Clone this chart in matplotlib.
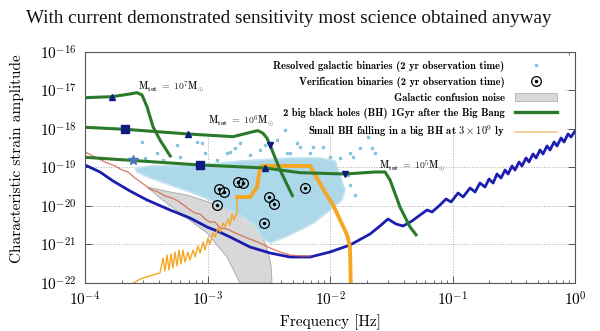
import numpy as np
import matplotlib
matplotlib.use("Agg")
import matplotlib.pyplot as plt
from matplotlib.lines import Line2D
from matplotlib.patches import Patch, Rectangle
from matplotlib.ticker import LogLocator, NullLocator

plt.rcParams['font.family'] = 'serif'
plt.rcParams['font.serif'] = ['cmr10']
plt.rcParams['mathtext.fontset'] = 'cm'
plt.rcParams['axes.formatter.use_mathtext'] = True

# all curves are stored as log10(frequency [Hz]) and log10(strain)

# LISA sensitivity curve
lisa_logf = [-4.000, -3.878, -3.771, -3.633, -3.494, -3.306, -3.143, -3.004, -2.922, -2.816,
             -2.653, -2.490, -2.327, -2.163, -2.000, -1.837, -1.673, -1.592, -1.527, -1.461,
             -1.404, -1.331, -1.265, -1.208, -1.167, -1.102, -1.053, -1.012, -0.955, -0.914,
             -0.857, -0.816, -0.776, -0.735, -0.702, -0.669, -0.637, -0.604, -0.571, -0.547,
             -0.514, -0.490, -0.457, -0.433, -0.400, -0.376, -0.343, -0.318, -0.286, -0.261,
             -0.229, -0.204, -0.171, -0.147, -0.114, -0.090, -0.057, -0.033, 0.000]
lisa_logh = [-18.935, -19.117, -19.351, -19.610, -19.844, -20.104, -20.312, -20.545, -20.649, -20.805,
             -21.065, -21.221, -21.325, -21.325, -21.195, -21.013, -20.727, -20.519, -20.338, -20.468,
             -20.519, -20.390, -20.234, -20.104, -20.156, -19.974, -19.818, -19.896, -19.662, -19.766,
             -19.532, -19.636, -19.403, -19.506, -19.299, -19.403, -19.169, -19.273, -19.065, -19.169,
             -18.961, -19.065, -18.857, -18.961, -18.753, -18.857, -18.649, -18.753, -18.545, -18.649,
             -18.442, -18.545, -18.338, -18.442, -18.234, -18.338, -18.130, -18.208, -18.052]

# older (red) sensitivity estimate
red_logf = [-4.000, -3.918, -3.837, -3.755, -3.698, -3.649, -3.592, -3.535, -3.469, -3.404,
            -3.347, -3.290, -3.241, -3.184, -3.143, -3.102, -3.061, -3.020, -2.980, -2.939,
            -2.898, -2.841, -2.792, -2.735, -2.678, -2.612, -2.555, -2.490, -2.408, -2.327,
            -2.245, -2.163]
red_logh = [-18.597, -18.727, -18.857, -18.961, -19.065, -19.117, -19.273, -19.403, -19.558, -19.636,
            -19.740, -19.792, -19.870, -20.000, -20.104, -20.182, -20.208, -20.338, -20.416, -20.416,
            -20.571, -20.597, -20.675, -20.753, -20.831, -20.909, -20.987, -21.091, -21.195, -21.273,
            -21.299, -21.299]

# galactic confusion noise (outline of the shaded region)
conf_logf = [-3.494, -3.306, -3.167, -2.922, -2.792, -2.629, -2.547, -2.506, -2.482, -2.473,
             -2.735, -2.841, -3.004, -3.224, -3.388]
conf_logh = [-19.506, -19.636, -19.714, -19.974, -20.156, -20.442, -20.831, -21.195, -21.532, -22.0,
             -22.0, -21.325, -20.701, -20.182, -19.792]

# resolved galactic binaries: dense core outline and isolated sources
gb_core_logf = [-3.592, -3.469, -3.061, -2.735, -2.327, -2.082, -1.959, -1.918, -1.878, -1.902,
                -2.000, -2.122, -2.245, -2.367, -2.490, -2.555, -2.612, -2.735, -2.857, -2.980,
                -3.143, -3.306, -3.469, -3.575]
gb_core_logh = [-19.013, -18.961, -18.935, -18.831, -18.753, -18.753, -18.831, -19.195, -19.584, -19.844,
                -20.104, -20.416, -20.623, -20.805, -20.961, -20.831, -20.519, -20.234, -20.052, -19.844,
                -19.636, -19.455, -19.273, -19.117]
gb_logf = [-3.535, -3.412, -3.249, -3.224, -3.086, -3.045, -3.020, -2.922, -2.841, -2.816,
           -2.776, -2.735, -2.433, -2.367, -2.351, -2.327, -2.269, -2.245, -2.163, -2.139,
           -2.057, -2.000, -1.918, -1.837, -1.812, -1.755, -1.690, -1.657, -1.633, -1.853,
           -1.837, -1.796, -2.571, -2.531, -2.653, -3.363, -3.510]
gb_logh = [-18.338, -18.623, -18.416, -18.727, -18.338, -18.364, -18.623, -18.805, -18.623, -18.597,
           -18.494, -18.364, -18.286, -18.026, -18.623, -18.623, -18.364, -18.468, -18.623, -18.468,
           -18.468, -18.727, -18.753, -18.623, -18.727, -18.494, -18.208, -18.494, -18.623, -19.195,
           -19.455, -19.714, -18.545, -18.416, -18.675, -18.805, -18.753]

# verification binaries
vb_logf = [-2.906, -2.865, -2.751, -2.710, -2.922, -2.498, -2.457, -2.539, -2.204]
vb_logh = [-19.558, -19.636, -19.377, -19.403, -19.974, -19.766, -19.948, -20.442, -19.532]

# massive black hole binaries, M_tot = 1e7, 1e6, 1e5 solar masses
mbh7_logf = [-4.000, -3.780, -3.633, -3.576, -3.535, -3.494, -3.445, -3.388, -3.298]
mbh7_logh = [-17.187, -17.161, -17.091, -17.057, -17.117, -17.421, -17.940, -18.286, -18.735]
mbh6_logf = [-4.000, -3.673, -3.159, -2.792, -2.629, -2.588, -2.547, -2.514, -2.490, -2.408, -2.302]
mbh6_logh = [-17.956, -18.008, -18.130, -18.200, -18.070, -18.044, -18.112, -18.242, -18.416, -19.065, -19.766]
mbh5_logf = [-4.000, -3.608, -3.061, -2.531, -2.245, -1.878, -1.633, -1.551, -1.510, -1.429, -1.347, -1.290]
mbh5_logh = [-18.735, -18.818, -18.935, -19.013, -19.135, -19.169, -19.117, -19.117, -19.325, -20.026, -20.545, -20.779]

# extreme mass ratio inspiral: early chirp with spikes, then late high-amplitude part
emri_lo_logf = [-3.698, -3.551, -3.445, -3.388, -3.363, -3.347, -3.331, -3.314, -3.298, -3.282,
                -3.265, -3.249, -3.233, -3.216, -3.200, -3.184, -3.159, -3.143, -3.118, -3.102,
                -3.078, -3.061, -3.037, -3.020, -2.996, -2.980, -2.955, -2.939, -2.914, -2.898,
                -2.873, -2.857, -2.833, -2.816, -2.800, -2.784, -2.759, -2.759]
emri_lo_logh = [-22.182, -21.896, -21.792, -21.740, -21.351, -21.688, -21.273, -21.662, -21.247, -21.610,
                -21.195, -21.558, -21.143, -21.506, -21.143, -21.455, -21.195, -21.403, -21.143, -21.325,
                -21.039, -21.221, -20.935, -21.143, -20.831, -20.987, -20.701, -20.805, -20.571, -20.675,
                -20.442, -20.545, -20.338, -20.494, -20.208, -20.364, -20.156, -19.766]
emri_hi_logf = [-2.759, -2.653, -2.596, -2.571, -2.555, -2.163, -2.122, -2.041, -1.976, -1.918,
                -1.861, -1.837, -1.829]
emri_hi_logh = [-19.766, -19.766, -19.510, -19.010, -18.960, -18.960, -19.190, -19.640, -19.970, -20.360,
                -20.750, -21.060, -22.300]

legend_labels = [
    'Resolved galactic binaries (2 yr observation time)',
    'Verification binaries (2 yr observation time)',
    'Galactic confusion noise',
    '2 big black holes (BH) 1Gyr after the Big Bang',
    r'Small BH falling in a big BH at $3\times10^{9}$ ly',
]

green = '#2b7a2b'
navy = '#101c82'
orange = '#f5a623'


def p10(v):
    return np.power(10.0, np.asarray(v))


fig = plt.figure(figsize=(6.0, 3.31), dpi=100)
ax = fig.add_axes([0.1417, 0.145, 0.8167, 0.698])
ax.set_xscale('log')
ax.set_yscale('log')
ax.set_xlim(1e-4, 1)
ax.set_ylim(1e-22, 1e-16)

ax.set_axisbelow(True)
ax.grid(True, which='major', linestyle=':', color='#a8a8a8', linewidth=0.7)
# white panel behind the legend hides the grid in the upper part
ax.add_patch(Rectangle((0, 0.645), 0.98, 0.355, transform=ax.transAxes,
                       facecolor='white', edgecolor='none', zorder=1))

# confusion noise and resolved binaries
ax.fill(p10(conf_logf), p10(conf_logh), facecolor='#d8d8d8', edgecolor='#a5a5a5',
        linewidth=0.6, zorder=1.5)
ax.fill(p10(gb_core_logf), p10(gb_core_logh), facecolor='#add8ea', edgecolor='#c6e4f0',
        linewidth=1.2, zorder=1.6)
ax.plot(p10(gb_logf), p10(gb_logh), linestyle='none', marker='o', markersize=1.6,
        color='#86c3df', zorder=1.7)

# sensitivity curves
ax.plot(p10(lisa_logf), p10(lisa_logh), color='#1c1cb0', linewidth=2.0, zorder=2)
ax.plot(p10(red_logf), p10(red_logh), color='#d0604a', linewidth=0.9, alpha=0.85, zorder=2.1)

# EMRI track
ax.plot(p10(emri_lo_logf), p10(emri_lo_logh), color=orange, linewidth=1.0, zorder=2.2)
ax.plot(p10(emri_hi_logf), p10(emri_hi_logh), color=orange, linewidth=2.8, zorder=2.2,
        solid_joinstyle='miter')

# MBH binaries
for lf, lh in [(mbh7_logf, mbh7_logh), (mbh6_logf, mbh6_logh), (mbh5_logf, mbh5_logh)]:
    ax.plot(p10(lf), p10(lh), color=green, linewidth=2.2, zorder=2.5, solid_capstyle='butt')

ax.plot(p10([mbh7_logf[1], mbh6_logf[2], mbh5_logf[3]]), p10([mbh7_logh[1], mbh6_logh[2], mbh5_logh[3]]),
        linestyle='none', marker='^', markersize=4.5, color=navy, zorder=3)
ax.plot(p10([mbh6_logf[1], mbh5_logf[2]]), p10([mbh6_logh[1], mbh5_logh[2]]),
        linestyle='none', marker='s', markersize=5.5, color=navy, zorder=3)
ax.plot(p10([mbh6_logf[8], mbh5_logf[5]]), p10([mbh6_logh[8], mbh5_logh[5]]),
        linestyle='none', marker='v', markersize=4.5, color=navy, zorder=3)
ax.plot(p10([mbh5_logf[1]]), p10([mbh5_logh[1]]), linestyle='none', marker='*',
        markersize=7, color='#4c78b0', zorder=3)

# verification binaries
ax.plot(p10(vb_logf), p10(vb_logh), linestyle='none', marker='o', markersize=7,
        markerfacecolor='none', markeredgecolor='black', markeredgewidth=0.9, zorder=3.5)
ax.plot(p10(vb_logf), p10(vb_logh), linestyle='none', marker='o', markersize=1.5,
        color='black', zorder=3.5)

# mass labels
lab_kw = dict(fontsize=7, ha='left', va='center', zorder=4, color='#222222')
ax.text(10 ** -3.567, 10 ** -16.909, r'$\mathbf{M_{tot}}\ =\ 10^{7}\mathbf{M}_{\odot}$', **lab_kw)
ax.text(10 ** -2.996, 10 ** -17.792, r'$\mathbf{M_{tot}}\ =\ 10^{6}\mathbf{M}_{\odot}$', **lab_kw)
ax.text(10 ** -1.600, 10 ** -18.960, r'$\mathbf{M_{tot}}\ =\ 10^{5}\mathbf{M}_{\odot}$', **lab_kw)

# axes styling
ax.xaxis.set_major_locator(LogLocator(base=10, numticks=10))
ax.xaxis.set_minor_locator(LogLocator(base=10, subs=np.arange(2, 10), numticks=10))
ax.yaxis.set_major_locator(LogLocator(base=10, numticks=10))
ax.yaxis.set_minor_locator(NullLocator())
ax.tick_params(which='both', direction='in', top=True, right=True, color='#555555')
ax.tick_params(which='major', length=5, width=0.7, labelsize=11)
ax.tick_params(which='minor', length=2.5, width=0.6)
ax.tick_params(axis='y', pad=6)
ax.tick_params(axis='x', pad=5)
for sp in ax.spines.values():
    sp.set_color('#555555')
    sp.set_linewidth(0.8)

# legend
handles = [
    Line2D([], [], linestyle='none', marker='o', markersize=1.6, color='#86c3df'),
    (Line2D([], [], linestyle='none', marker='o', markersize=7, markerfacecolor='none',
            markeredgecolor='black', markeredgewidth=0.9),
     Line2D([], [], linestyle='none', marker='o', markersize=1.5, color='black')),
    Patch(facecolor='#d8d8d8', edgecolor='#b0b0b0', linewidth=0.6),
    Line2D([], [], color=green, linewidth=2.4),
    Line2D([], [], color='#f2c98a', linewidth=1.2),
]
leg = ax.legend(handles, legend_labels, loc='upper right', bbox_to_anchor=(0.963, 0.962),
                frameon=False, markerfirst=False, borderpad=0, borderaxespad=0,
                handlelength=4.0, handletextpad=0.95, labelspacing=0.47,
                prop={'family': 'cmb10', 'size': 7.6})
leg.set_zorder(5)

fig.text(0.482, 0.944, 'With current demonstrated sensitivity most science obtained anyway',
         ha='center', va='center', fontsize=13.8, family='Liberation Serif', color='#111111')
fig.text(0.028, 0.521, 'Characteristic strain amplitude', rotation=90, ha='center',
         va='center', fontsize=11)
fig.text(0.55, 0.027, 'Frequency [Hz]', ha='center', va='center', fontsize=11)

fig.savefig('out.png', dpi=100, facecolor='white')
